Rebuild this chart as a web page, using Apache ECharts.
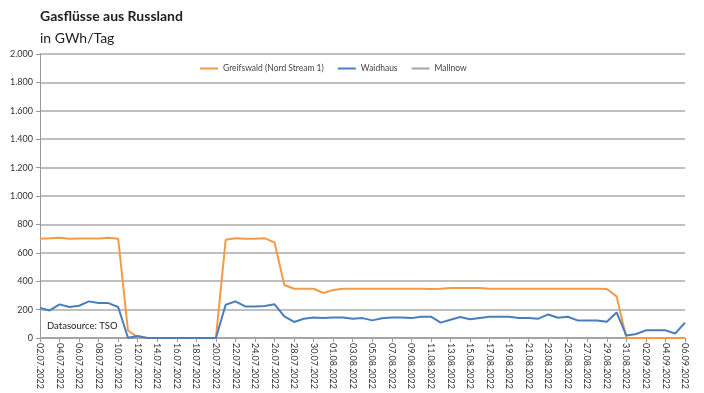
<!DOCTYPE html>
<html><head><meta charset="utf-8">
<script src="https://cdn.jsdelivr.net/npm/echarts@6/dist/echarts.min.js"></script>
<style>html,body{margin:0;padding:0;background:#fff}#c{width:704px;height:393px}</style>
</head><body><div id="c"></div>
<script>
const dates = ["02.07.2022","03.07.2022","04.07.2022","05.07.2022","06.07.2022","07.07.2022","08.07.2022","09.07.2022","10.07.2022","11.07.2022","12.07.2022","13.07.2022","14.07.2022","15.07.2022","16.07.2022","17.07.2022","18.07.2022","19.07.2022","20.07.2022","21.07.2022","22.07.2022","23.07.2022","24.07.2022","25.07.2022","26.07.2022","27.07.2022","28.07.2022","29.07.2022","30.07.2022","31.07.2022","01.08.2022","02.08.2022","03.08.2022","04.08.2022","05.08.2022","06.08.2022","07.08.2022","08.08.2022","09.08.2022","10.08.2022","11.08.2022","12.08.2022","13.08.2022","14.08.2022","15.08.2022","16.08.2022","17.08.2022","18.08.2022","19.08.2022","20.08.2022","21.08.2022","22.08.2022","23.08.2022","24.08.2022","25.08.2022","26.08.2022","27.08.2022","28.08.2022","29.08.2022","30.08.2022","31.08.2022","01.09.2022","02.09.2022","03.09.2022","04.09.2022","05.09.2022","06.09.2022"];
const greifswald = [699,702,706,699,700,700,700,706,699,53,5,0,0,0,0,0,0,0,0,692,702,699,699,702,673,373,347,347,347,317,338,347,347,347,347,347,347,347,347,347,345,347,352,352,352,352,347,347,347,347,347,347,347,347,347,347,347,347,345,293,0,0,0,0,0,0,0];
const waidhaus = [211,194,237,218,227,258,246,246,218,2,14,0,0,0,0,0,0,0,0,234,258,222,222,226,237,152,113,136,145,141,145,145,136,140,124,139,145,145,140,150,150,108,129,148,132,141,150,150,150,141,141,136,166,143,150,124,124,124,115,180,18,28,54,54,54,32,108];
const mallnow = dates.map(() => 0);
const seriesNames = ["Greifswald (Nord Stream 1)","Waidhaus","Mallnow"];

const chart = echarts.init(document.getElementById('c'), null, {renderer:'canvas'});
const fmt = v => v.toLocaleString('de-DE');
const F = 'Lato';
chart.setOption({
  animation:false,
  textStyle:{fontFamily:F},
  title:[
    {text:'Gasflüsse aus Russland', left:35, top:4, textStyle:{fontSize:14, fontWeight:'bold', color:'#222', fontFamily:F}},
    {text:'in GWh/Tag', left:35, top:26, textStyle:{fontSize:14, fontWeight:'normal', color:'#222', fontFamily:F}},
    {text:'Datasource: TSO', left:42, top:316, textStyle:{fontSize:9.5, fontWeight:'normal', color:'#222', fontFamily:F}}
  ],
  legend:{top:59, left:195, itemWidth:18, itemHeight:2, itemGap:14, icon:'rect',
    textStyle:{fontSize:8.5, color:'#444', fontFamily:F}, data:seriesNames},
  grid:{left:40, right:19, top:54, bottom:55},
  xAxis:{type:'category', data:dates, boundaryGap:false,
    axisLine:{lineStyle:{color:'#999', width:1}},
    axisTick:{interval:1, length:4, lineStyle:{color:'#999'}},
    axisLabel:{interval:1, rotate:-90, fontSize:9, color:'#333', margin:5}},
  yAxis:{type:'value', min:0, max:2000, interval:200,
    axisLine:{show:true, lineStyle:{color:'#999'}},
    axisTick:{show:true, length:4, lineStyle:{color:'#999'}},
    splitLine:{lineStyle:{color:'#aaa', width:1.5}},
    axisLabel:{fontSize:9, color:'#333', margin:7, formatter:fmt}},
  series:[
    {name:seriesNames[2], type:'line', data:mallnow, showSymbol:false, lineStyle:{width:2, color:'#A5A5A5'}, itemStyle:{color:'#A5A5A5'}, z:1},
    {name:seriesNames[0], type:'line', data:greifswald, showSymbol:false, lineStyle:{width:2, color:'#F39A45'}, itemStyle:{color:'#F39A45'}, z:2},
    {name:seriesNames[1], type:'line', data:waidhaus, showSymbol:false, lineStyle:{width:2, color:'#4A7EBB'}, itemStyle:{color:'#4A7EBB'}, z:3}
  ]
});
</script></body></html>
